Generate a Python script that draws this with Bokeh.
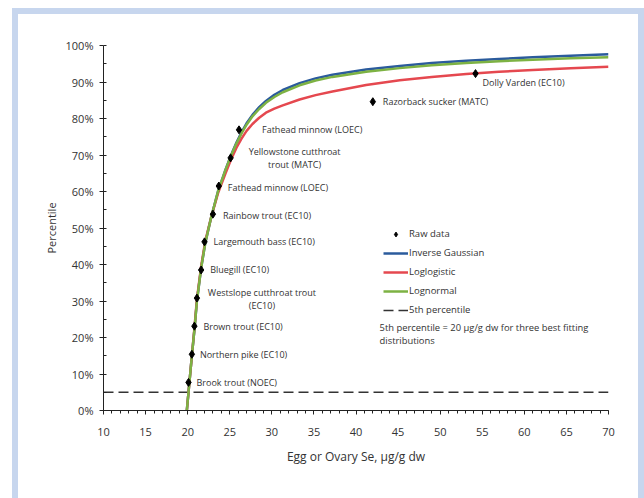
from bokeh.plotting import figure
from bokeh.models import (Range1d, Legend, LegendItem, Label, ColumnDataSource,
                          PrintfTickFormatter, FixedTicker)
from bokeh.layouts import column
from bokeh.core.properties import value
from bokeh.embed import file_html
from bokeh.resources import INLINE

# ---------------- data ----------------
species = [
    "Brook trout (NOEC)",
    "Northern pike (EC10)",
    "Brown trout (EC10)",
    "Westslope cutthroat trout\n(EC10)",
    "Bluegill (EC10)",
    "Largemouth bass (EC10)",
    "Rainbow trout (EC10)",
    "Fathead minnow (LOEC)",
    "Yellowstone cutthroat\ntrout (MATC)",
    "Fathead minnow (LOEC)",
    "Razorback sucker (MATC)",
    "Dolly Varden (EC10)",
]
raw_se = [20.1, 20.5, 20.8, 21.1, 21.6, 22.0, 23.0, 23.7, 25.1, 26.1, 42.0, 54.2]
raw_pct = [7.7, 15.4, 23.1, 30.8, 38.5, 46.2, 53.8, 61.5, 69.2, 76.9, 84.6, 92.3]

curve_se = [19.9, 20.1, 20.5, 20.8, 21.1, 21.6, 22.1, 22.8, 23.6, 24.5, 25.2,
            25.8, 26.4, 27.0, 27.7, 28.5, 29.3, 30.3, 31.3, 33.3, 35.2, 37.2,
            41.2, 45.2, 49.0, 53.1, 57.0, 61.0, 65.5, 70.0]
inv_gauss_pct = [0, 5, 15, 22, 30, 39, 46, 53, 60, 66, 70.2,
                 73.4, 76.2, 78.7, 81.0, 83.1, 84.8, 86.5, 87.8, 89.7, 91.0, 92.0,
                 93.4, 94.4, 95.2, 95.8, 96.3, 96.8, 97.2, 97.6]
loglogistic_pct = [0, 5, 15, 22.5, 30.5, 39.5, 46.5, 53, 59.5, 65, 69,
                   72.0, 74.5, 76.6, 78.5, 80.2, 81.6, 82.7, 83.6, 85.2, 86.4, 87.4,
                   89.2, 90.5, 91.4, 92.2, 92.8, 93.3, 93.8, 94.2]
lognormal_pct = [0, 5, 15, 22, 30, 39, 46, 53, 60, 66, 70.1,
                 73.2, 75.9, 78.3, 80.6, 82.6, 84.3, 85.9, 87.2, 89.1, 90.4, 91.4,
                 92.8, 93.8, 94.6, 95.2, 95.7, 96.1, 96.5, 96.8]

fifth_se = [10, 70]
fifth_pct = [5, 5]

x_ticks = [10, 15, 20, 25, 30, 35, 40, 45, 50, 55, 60, 65, 70]
y_ticks = [0, 10, 20, 30, 40, 50, 60, 70, 80, 90, 100]

note_text = "5th percentile = 20 \u00b5g/g dw for  three best fitting\ndistributions"

# label placement (pixels) - styling only
label_dx = [8, 8, 9, 65, 9, 9, 10, 9, 64, 23, 10, 7]
label_dy = [0, 0, 0, 1, 0, 0, 1, 1, 0, 0, 0, 9]
label_align = ["left", "left", "left", "center", "left", "left", "left", "left",
               "center", "left", "left", "left"]

FONT = "Open Sans"
TXT = "#333333"
BLUE = "#2b5b9c"
RED = "#e5484f"
GREEN = "#7db243"

p = figure(frame_width=505, frame_height=365,
           x_range=Range1d(10, 70), y_range=Range1d(0, 100),
           output_backend="svg", toolbar_location=None,
           min_border_left=85, min_border_right=30,
           min_border_top=31, min_border_bottom=88,
           background_fill_color="white", border_fill_color="white",
           outline_line_color=None)
p.xgrid.visible = False
p.ygrid.visible = False

# axes
for ax in (p.xaxis[0], p.yaxis[0]):
    ax.axis_line_color = "#222222"
    ax.major_tick_line_color = "#222222"
    ax.minor_tick_line_color = "#222222"
    ax.major_label_text_font = FONT
    ax.major_label_text_color = TXT
    ax.major_label_text_font_size = "11px"
    ax.axis_label_text_font = FONT
    ax.axis_label_text_color = TXT
    ax.axis_label_text_font_style = "normal"

p.xaxis.ticker = FixedTicker(ticks=x_ticks, minor_ticks=list(range(10, 71)))
p.xaxis.major_tick_out = 4
p.xaxis.major_tick_in = 0
p.xaxis.minor_tick_out = 3
p.xaxis.minor_tick_in = 0
p.xaxis.major_label_standoff = 13
p.xaxis.axis_label = "Egg or Ovary Se, \u00b5g/g dw"
p.xaxis.axis_label_text_font_size = "12px"
p.xaxis.axis_label_standoff = 9

p.yaxis.ticker = FixedTicker(ticks=y_ticks, minor_ticks=list(range(0, 101, 5)))
p.yaxis.formatter = PrintfTickFormatter(format="%d%%")
p.yaxis.major_tick_out = 4
p.yaxis.major_tick_in = 0
p.yaxis.minor_tick_out = 0
p.yaxis.minor_tick_in = 3
p.yaxis.major_label_standoff = 6
p.yaxis.axis_label = "Percentile"
p.yaxis.axis_label_text_font_size = "11px"
p.yaxis.axis_label_standoff = 4

# series
r_fifth = p.line(fifth_se, fifth_pct, line_color="#333333", line_width=1.5,
                 line_dash="10 5")
r_blue = p.line(curve_se, inv_gauss_pct, line_color=BLUE, line_width=2.5)
r_red = p.line(curve_se, loglogistic_pct, line_color=RED, line_width=2.5)
r_green = p.line(curve_se, lognormal_pct, line_color=GREEN, line_width=2.5)
r_raw = p.scatter(raw_se, raw_pct, marker="diamond", size=8,
                  fill_color="black", line_color="black")

src = ColumnDataSource(dict(x=raw_se, y=raw_pct, t=species, dx=label_dx,
                            dy=label_dy, al=label_align))
p.text(x="x", y="y", text="t", x_offset="dx", y_offset="dy", text_align="al",
       source=src, text_baseline="middle", text_font=value(FONT),
       text_font_size="9px", text_color=TXT, text_line_height=1.0)

legend = Legend(items=[
    LegendItem(label="Raw data", renderers=[r_raw]),
    LegendItem(label="Inverse Gaussian", renderers=[r_blue]),
    LegendItem(label="Loglogistic", renderers=[r_red]),
    LegendItem(label="Lognormal", renderers=[r_green]),
    LegendItem(label="5th percentile", renderers=[r_fifth]),
], location=(280, 94), orientation="vertical",
    background_fill_alpha=0, border_line_color=None,
    padding=0, margin=0, spacing=6,
    glyph_width=25, glyph_height=12, label_height=12, label_standoff=1,
    label_text_font=FONT, label_text_font_size="9.5px", label_text_color=TXT)
p.add_layout(legend, "center")

p.add_layout(Label(x=42.8, y=21.0, text=note_text, text_font=FONT,
                   text_font_size="9.4px", text_color=TXT, text_baseline="middle",
                   text_line_height=1.05))

layout = column(p, styles={"margin-left": "12px",
                           "margin-top": "8px",
                           "border-top": "6px solid #c7d6ee",
                           "border-left": "6px solid #c7d6ee",
                           "border-right": "6px solid #c7d6ee",
                           "background-color": "white"})

open("out.html", "w").write(file_html(layout, INLINE))
